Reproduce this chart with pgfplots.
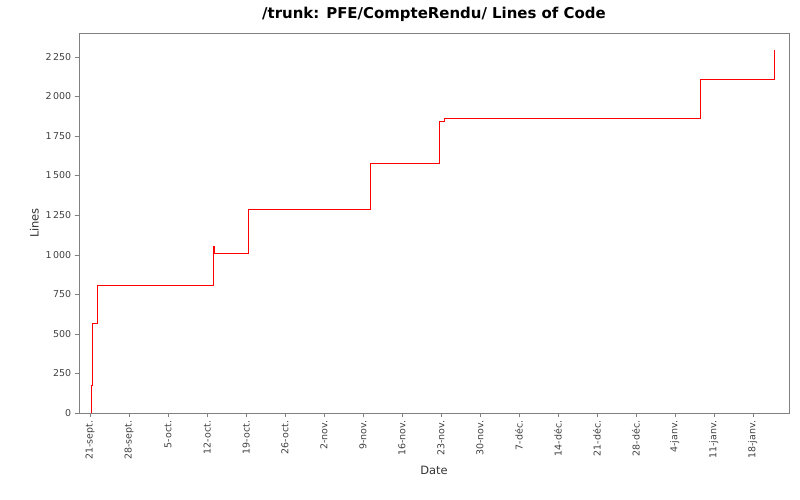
\documentclass[border=0pt]{standalone}
\usepackage{pgfplots}
\pgfplotsset{compat=1.18}
\usepackage{fontspec}
\setmainfont{DejaVu Sans}
\begin{document}
\begin{tikzpicture}
\begin{axis}[
  width=710bp, height=380bp, scale only axis,
  xmin=-2, xmax=125.5, ymin=0, ymax=2400,
  axis line style={gray}, tick style={gray},
  tick align=outside, xtick pos=bottom, ytick pos=left,
  xtick={0,7,...,119},
  xticklabels={21-sept.,28-sept.,5-oct.,12-oct.,19-oct.,26-oct.,2-nov.,9-nov.,16-nov.,23-nov.,30-nov.,7-déc.,14-déc.,21-déc.,28-déc.,4-janv.,11-janv.,18-janv.},
  xticklabel style={rotate=90,anchor=east,font=\fontsize{9.5}{11}\selectfont,text=black!75},
  ytick={0,250,...,2250},
  yticklabel style={font=\fontsize{9.5}{11}\selectfont,text=black!75},
  /pgf/number format/assume math mode=true,
  /pgf/number format/.cd,1000 sep={\,},
  /pgfplots/.cd,
  scaled y ticks=false,
  xlabel={Date}, ylabel={Lines},
  label style={font=\fontsize{11.5}{13}\selectfont,text=black!80},
  title={\textbf{/trunk: PFE/CompteRendu/ Lines of Code}},
  title style={font=\fontsize{15}{17}\selectfont,yshift=2pt},
]
\addplot[red, thick, const plot] coordinates {
(0.2,0) (0.2,177) (0.4,569) (1.25,809) (22.1,1055) (22.3,1011) (28.4,1289) (50.3,1574) (62.7,1839) (63.6,1858) (109.5,2104) (122.8,2288) (122.81,2288)
};
\end{axis}
\path[use as bounding box] ([shift={(-79bp,-87bp)}]current axis.south west) rectangle ([shift={(11bp,33bp)}]current axis.north east);
\end{tikzpicture}
\end{document}
